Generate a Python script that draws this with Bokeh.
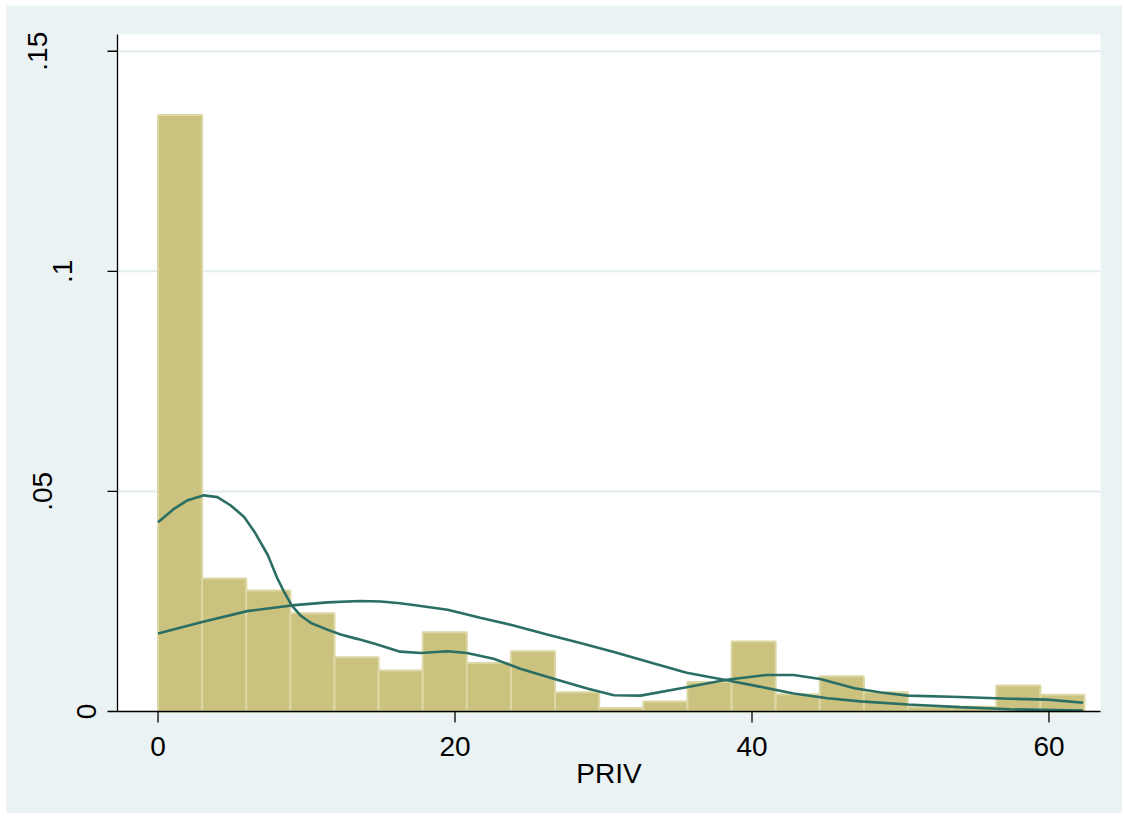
import math
import numpy as np
from bokeh.plotting import figure
from bokeh.models import Range1d, Spacer
from bokeh.core.properties import value
from bokeh.layouts import column, row
from bokeh.embed import file_html
from bokeh.resources import INLINE

# ---- data ----
bin_start = 0.0
bin_width = 2.971
density = [0.1355, 0.0302, 0.0275, 0.0223, 0.0123, 0.0093, 0.0180, 0.0110,
           0.0137, 0.0044, 0.0008, 0.0023, 0.0067, 0.0159, 0.0039, 0.0080,
           0.0044, 0.0011, 0.0011, 0.0059, 0.0038]

kde_x = [0.0, 1.1, 2.0, 3.1, 4.0, 4.9, 5.8, 6.5, 7.4, 8.0, 8.5, 9.0, 9.6, 10.3,
         11.4, 12.3, 13.4, 14.6, 16.3, 17.7, 19.5, 20.8, 22.6, 24.4, 26.7, 28.9,
         30.7, 32.5, 35.6, 38.3, 41.0, 42.8, 44.6, 46.9, 48.7, 50.5, 54.0, 57.4,
         59.9, 62.3]
kde_y = [0.0430, 0.0461, 0.0480, 0.0491, 0.0487, 0.0468, 0.0442, 0.0408, 0.0355,
         0.0305, 0.0271, 0.0241, 0.0218, 0.0201, 0.0186, 0.0175, 0.0165, 0.0154,
         0.0136, 0.0133, 0.0137, 0.0133, 0.0120, 0.0097, 0.0074, 0.0052, 0.0037,
         0.0036, 0.0055, 0.0072, 0.0083, 0.0083, 0.0074, 0.0053, 0.0043, 0.0036,
         0.0033, 0.0029, 0.0027, 0.0020]

norm_x = [0.0, 2.9, 6.0, 9.0, 11.4, 13.6, 15.0, 16.3, 17.2, 19.5, 21.7, 24.0,
          26.2, 28.5, 30.7, 33.4, 35.6, 38.3, 40.6, 42.8, 45.1, 47.3, 50.5, 54.0,
          57.4, 62.3]
norm_y = [0.0177, 0.0203, 0.0228, 0.0241, 0.0248, 0.0251, 0.0250, 0.0246, 0.0242,
          0.0231, 0.0213, 0.0195, 0.0175, 0.0155, 0.0135, 0.0109, 0.0088, 0.0071,
          0.0056, 0.0041, 0.0030, 0.0023, 0.0016, 0.0010, 0.0005, 0.0002]

x_ticks = [0, 20, 40, 60]
x_tick_labels = ["0", "20", "40", "60"]
y_ticks = [0, 0.05, 0.1, 0.15]
y_tick_labels = ["0", ".05", ".1", ".15"]
x_label = "PRIV"

# ---- style / geometry ----
BG = "#EAF2F3"
BAR = "#CAC27E"
BAR_EDGE = "#DCD7A4"
LINE = "#2B6E64"
GRID = "#E3ECEF"
AXIS = "black"
FONT = "Liberation Sans"
FS = "28px"

X0, X1 = -2.73, 63.47          # plot-region x limits (data)
Y0, Y1 = 0.0, 0.1538           # plot-region y limits (data)
FIG_W, FIG_H = 1116, 808
P_LEFT, P_RIGHT, P_TOP, P_BOTTOM = 111, 1094, 29, 706   # plot region in figure px

ppx = (P_RIGHT - P_LEFT) / (X1 - X0)
ppy = (P_BOTTOM - P_TOP) / (Y1 - Y0)
XL = X0 - P_LEFT / ppx
XR = X1 + (FIG_W - P_RIGHT) / ppx
YT = Y1 + P_TOP / ppy
YB = Y0 - (FIG_H - P_BOTTOM) / ppy

Y_TICK_LEN = 10 / ppx
X_TICK_LEN = 11 / ppy
# px from figure left of the centre of each rotated y label
y_label_centres = [80, 36, 56, 31]
X_LABEL_DY = 35 / ppy          # tick label centre below the axis
X_TITLE_DY = 62 / ppy          # axis title centre below the axis

p = figure(width=FIG_W, height=FIG_H, output_backend="svg", toolbar_location=None,
           x_range=Range1d(XL, XR), y_range=Range1d(YB, YT),
           x_axis_location=None, y_axis_location=None,
           min_border=0)
p.border_fill_color = BG
p.background_fill_color = BG
p.outline_line_color = None
p.grid.visible = False

# white plot region
p.quad(left=[X0], right=[X1], bottom=[Y0], top=[Y1],
       fill_color="white", line_color=None)
# horizontal grid lines
gy = y_ticks[1:]
p.segment(x0=[X0] * len(gy), x1=[X1] * len(gy), y0=gy, y1=gy,
          line_color=GRID, line_width=2)

# histogram
edges = bin_start + bin_width * np.arange(len(density) + 1)
p.quad(left=edges[:-1], right=edges[1:], bottom=0, top=density,
       fill_color=BAR, line_color=BAR_EDGE, line_width=2)

# density curves
p.line(kde_x, kde_y, line_color=LINE, line_width=2.6)
p.line(norm_x, norm_y, line_color=LINE, line_width=2.6)

# y axis: line, ticks, rotated labels
p.segment(x0=[X0], x1=[X0], y0=[Y0], y1=[Y1], line_color=AXIS, line_width=1.3)
p.segment(x0=[X0 - Y_TICK_LEN] * len(y_ticks), x1=[X0] * len(y_ticks),
          y0=y_ticks, y1=y_ticks, line_color=AXIS, line_width=1.3)
label_x = [X0 - (P_LEFT - c) / ppx for c in y_label_centres]
p.text(x=label_x, y=y_ticks, text=y_tick_labels, angle=math.pi / 2,
       text_align="center", text_baseline="middle",
       text_font=value(FONT), text_font_size=FS, text_color="black")

# x axis: line, ticks, labels, title
p.segment(x0=[X0], x1=[X1], y0=[Y0], y1=[Y0], line_color=AXIS, line_width=1.3)
p.segment(x0=x_ticks, x1=x_ticks, y0=[Y0] * len(x_ticks),
          y1=[Y0 - X_TICK_LEN] * len(x_ticks), line_color=AXIS, line_width=1.3)
p.text(x=x_ticks, y=[Y0 - X_LABEL_DY] * len(x_ticks), text=x_tick_labels,
       text_align="center", text_baseline="middle",
       text_font=value(FONT), text_font_size=FS, text_color="black")
p.text(x=[(X0 + X1) / 2], y=[Y0 - X_TITLE_DY], text=[x_label],
       text_align="center", text_baseline="middle",
       text_font=value(FONT), text_font_size=FS, text_color="black")

layout = column(Spacer(height=5), row(Spacer(width=6), p))
open("out.html", "w").write(file_html(layout, INLINE))
